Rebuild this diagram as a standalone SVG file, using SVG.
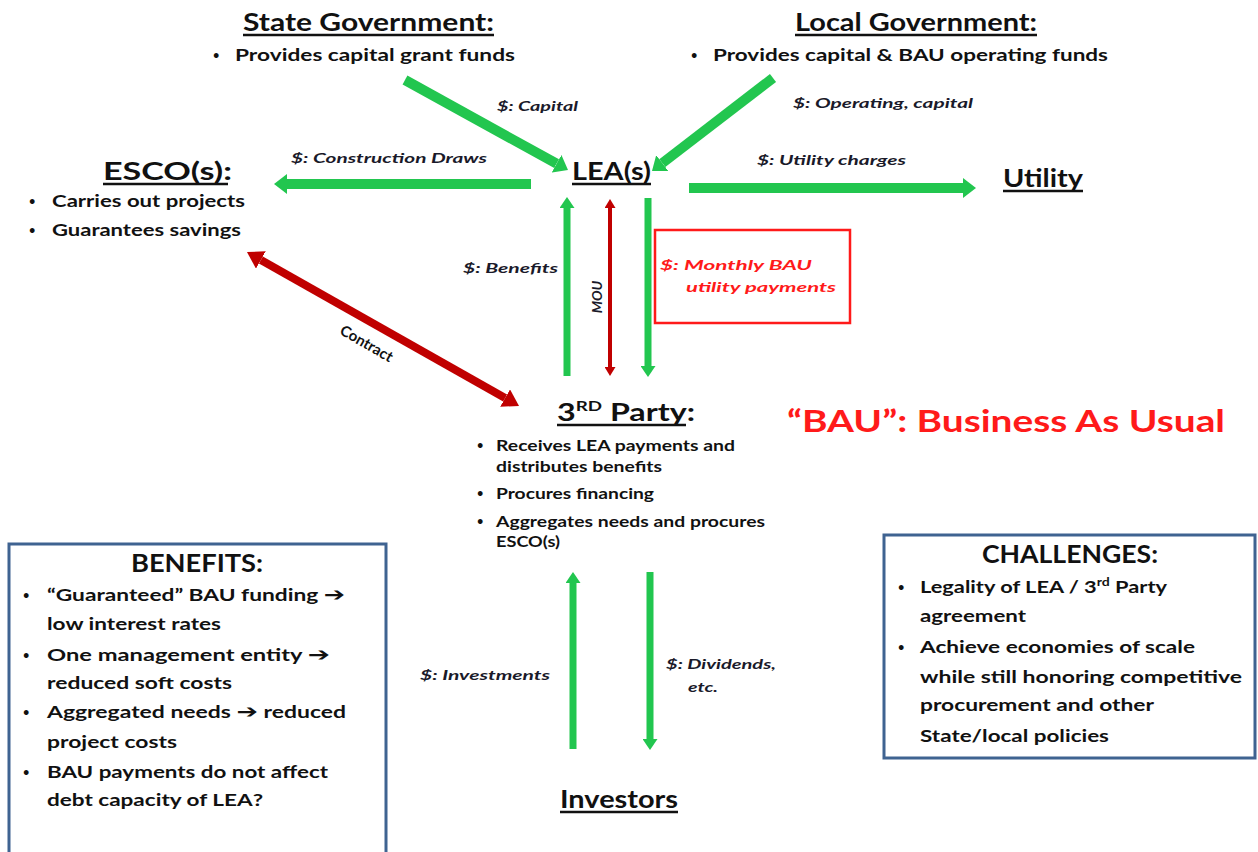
<svg xmlns="http://www.w3.org/2000/svg" width="1258" height="852" viewBox="0 0 1258 852">
  <defs>
    <style>
      text { font-family: Lato, "Liberation Sans", sans-serif; fill: #111; font-weight: bold; }
      .head { font-size: 24px; }
      .item { font-size: 17px; }
      .small { font-size: 15px; }
      .dot { font-size: 11px; }
      .lbl { font-size: 14px; font-style: italic; fill: #1a1a2a; }
      .red { fill: #ff1a1a; }
      .arw { font-family: "DejaVu Sans", sans-serif; font-size: 19px; }
      .ul { stroke: #111; stroke-width: 2.5; }
      .green { stroke: #22c64f; fill: none; }
      .dred { stroke: #c00000; fill: none; }
      .box { fill: #fff; stroke: #3f6391; stroke-width: 3; }
    </style>
    <marker id="gHead" markerUnits="userSpaceOnUse" viewBox="0 0 13 20" refX="0" refY="10" markerWidth="13" markerHeight="20" orient="auto">
      <path d="M0,0 L13,10 L0,20 z" fill="#22c64f"/>
    </marker>
    <marker id="gHeadS" markerUnits="userSpaceOnUse" viewBox="0 0 11 15" refX="0" refY="7.5" markerWidth="11" markerHeight="15" orient="auto">
      <path d="M0,0 L11,7.5 L0,15 z" fill="#22c64f"/>
    </marker>
    <marker id="rHeadS" markerUnits="userSpaceOnUse" viewBox="0 0 9 11" refX="0" refY="5.5" markerWidth="9" markerHeight="11" orient="auto-start-reverse">
      <path d="M0,0 L9,5.5 L0,11 z" fill="#c00000"/>
    </marker>
    <marker id="rHead" markerUnits="userSpaceOnUse" viewBox="0 0 16 20" refX="0" refY="10" markerWidth="16" markerHeight="20" orient="auto-start-reverse">
      <path d="M0,0 L16,10 L0,20 z" fill="#c00000"/>
    </marker>
  </defs>

  <rect width="1258" height="852" fill="#fff"/>

  <!-- flows between the parties -->
  <g id="connectors">
    <line class="green" stroke-width="10" x1="405" y1="80" x2="556.6" y2="163.7" marker-end="url(#gHead)"/>
    <line class="green" stroke-width="10" x1="773" y1="78" x2="662.3" y2="163.1" marker-end="url(#gHead)"/>
    <line class="green" stroke-width="10" x1="531" y1="184" x2="287" y2="184" marker-end="url(#gHead)"/>
    <line class="green" stroke-width="10" x1="689" y1="188" x2="963" y2="188" marker-end="url(#gHead)"/>
    <line class="green" stroke-width="7" x1="567" y1="376" x2="567" y2="208" marker-end="url(#gHeadS)"/>
    <line class="dred" stroke-width="4" x1="610" y1="208" x2="610" y2="367" marker-start="url(#rHeadS)" marker-end="url(#rHeadS)"/>
    <line class="green" stroke-width="7" x1="648" y1="198" x2="648" y2="366" marker-end="url(#gHeadS)"/>
    <line class="dred" stroke-width="8" x1="260.9" y1="259.9" x2="505.1" y2="398.1" marker-start="url(#rHead)" marker-end="url(#rHead)"/>
    <line class="green" stroke-width="7" x1="573" y1="749" x2="573" y2="583" marker-end="url(#gHeadS)"/>
    <line class="green" stroke-width="7" x1="650" y1="572" x2="650" y2="739" marker-end="url(#gHeadS)"/>

    <text class="lbl" x="497" y="111" textLength="81" lengthAdjust="spacingAndGlyphs">$: Capital</text>
    <text class="lbl" x="793" y="108" textLength="180" lengthAdjust="spacingAndGlyphs">$: Operating,  capital</text>
    <text class="lbl" x="291" y="163" textLength="196" lengthAdjust="spacingAndGlyphs">$: Construction  Draws</text>
    <text class="lbl" x="757" y="165" textLength="149" lengthAdjust="spacingAndGlyphs">$: Utility charges</text>
    <text class="lbl" x="463" y="273" textLength="95" lengthAdjust="spacingAndGlyphs">$: Benefits</text>
    <text class="lbl" transform="translate(602,297) rotate(-90)" text-anchor="middle" font-size="15">MOU</text>
    <text transform="translate(364,348) rotate(30)" text-anchor="middle" font-size="15" fill="#222">Contract</text>
    <text class="lbl" x="420" y="680" textLength="130" lengthAdjust="spacingAndGlyphs">$: Investments</text>
    <text class="lbl" x="666" y="669" textLength="110" lengthAdjust="spacingAndGlyphs">$: Dividends,</text>
    <text class="lbl" x="688" y="692" textLength="30" lengthAdjust="spacingAndGlyphs">etc.</text>
  </g>

  <g id="state-government">
    <text class="head" x="243" y="31" textLength="251" lengthAdjust="spacingAndGlyphs">State Government:</text>
    <line class="ul" x1="243" y1="35" x2="494" y2="35"/>
    <text class="dot" x="213" y="59">•</text>
    <text class="item" x="235" y="61" textLength="280" lengthAdjust="spacingAndGlyphs">Provides capital  grant  funds</text>
  </g>

  <g id="local-government">
    <text class="head" x="795" y="31" textLength="242" lengthAdjust="spacingAndGlyphs">Local Government:</text>
    <line class="ul" x1="795" y1="35" x2="1037" y2="35"/>
    <text class="dot" x="691" y="59">•</text>
    <text class="item" x="713" y="61" textLength="395" lengthAdjust="spacingAndGlyphs">Provides capital  &amp; BAU  operating funds</text>
  </g>

  <g id="esco">
    <text class="head" x="103" y="180" textLength="129" lengthAdjust="spacingAndGlyphs">ESCO(s):</text>
    <line class="ul" x1="103" y1="184" x2="228" y2="184"/>
    <text class="dot" x="29" y="205">•</text>
    <text class="item" x="52" y="207" textLength="193" lengthAdjust="spacingAndGlyphs">Carries out projects</text>
    <text class="dot" x="29" y="234">•</text>
    <text class="item" x="52" y="236" textLength="189" lengthAdjust="spacingAndGlyphs">Guarantees savings</text>
  </g>

  <g id="lea">
    <text class="head" x="572" y="180" textLength="79" lengthAdjust="spacingAndGlyphs">LEA(s)</text>
    <line class="ul" x1="572" y1="184" x2="651" y2="184"/>
  </g>

  <g id="utility">
    <text class="head" x="1003" y="187" textLength="80" lengthAdjust="spacingAndGlyphs">Utility</text>
    <line class="ul" x1="1003" y1="191" x2="1083" y2="191"/>
  </g>

  <g id="monthly-payments">
    <rect x="655" y="230" width="195" height="93" fill="none" stroke="#ff1a1a" stroke-width="2.5"/>
    <text class="lbl red" x="660" y="270" font-size="16" textLength="152" lengthAdjust="spacingAndGlyphs">$: Monthly BAU</text>
    <text class="lbl red" x="686" y="292" font-size="16" textLength="150" lengthAdjust="spacingAndGlyphs">utility payments</text>
  </g>

  <g id="third-party">
    <text class="head" x="557" y="421" textLength="138" lengthAdjust="spacingAndGlyphs">3<tspan font-size="14" dy="-10">RD</tspan><tspan dy="10"> Party:</tspan></text>
    <line class="ul" x1="557" y1="425" x2="686" y2="425"/>
    <text class="dot" x="477" y="449">•</text>
    <text class="small" x="496" y="451" textLength="239" lengthAdjust="spacingAndGlyphs">Receives LEA payments and</text>
    <text class="small" x="496" y="472" textLength="166" lengthAdjust="spacingAndGlyphs">distributes benefits</text>
    <text class="dot" x="477" y="497">•</text>
    <text class="small" x="496" y="499" textLength="158" lengthAdjust="spacingAndGlyphs">Procures  financing</text>
    <text class="dot" x="477" y="525">•</text>
    <text class="small" x="496" y="527" textLength="269" lengthAdjust="spacingAndGlyphs">Aggregates needs and procures</text>
    <text class="small" x="496" y="547" textLength="64" lengthAdjust="spacingAndGlyphs">ESCO(s)</text>
  </g>

  <g id="bau-note">
    <text class="red" x="787" y="432" font-size="30" textLength="438" lengthAdjust="spacingAndGlyphs">“BAU”: Business As Usual</text>
  </g>

  <g id="investors">
    <text class="head" x="560" y="808" textLength="118" lengthAdjust="spacingAndGlyphs">Investors</text>
    <line class="ul" x1="560" y1="812" x2="678" y2="812"/>
  </g>

  <g id="benefits">
    <rect class="box" x="9" y="544" width="377" height="320"/>
    <text class="head" x="197" y="572" text-anchor="middle" font-size="23" textLength="132" lengthAdjust="spacingAndGlyphs">BENEFITS:</text>
    <text class="dot" x="23" y="599">•</text>
    <text class="item" x="47" y="601" textLength="298" lengthAdjust="spacingAndGlyphs">“Guaranteed”  BAU  funding <tspan class="arw">➔</tspan></text>
    <text class="item" x="47" y="630" textLength="174" lengthAdjust="spacingAndGlyphs">low interest rates</text>
    <text class="dot" x="23" y="659">•</text>
    <text class="item" x="47" y="661" textLength="283" lengthAdjust="spacingAndGlyphs">One management  entity <tspan class="arw">➔</tspan></text>
    <text class="item" x="47" y="689" textLength="185" lengthAdjust="spacingAndGlyphs">reduced soft costs</text>
    <text class="dot" x="23" y="716">•</text>
    <text class="item" x="47" y="718" textLength="299" lengthAdjust="spacingAndGlyphs">Aggregated  needs <tspan class="arw">➔</tspan> reduced</text>
    <text class="item" x="47" y="748" textLength="130" lengthAdjust="spacingAndGlyphs">project  costs</text>
    <text class="dot" x="23" y="776">•</text>
    <text class="item" x="47" y="778" textLength="281" lengthAdjust="spacingAndGlyphs">BAU  payments do not affect</text>
    <text class="item" x="47" y="806" textLength="216" lengthAdjust="spacingAndGlyphs">debt capacity  of LEA?</text>
  </g>

  <g id="challenges">
    <rect class="box" x="884" y="535" width="371" height="223"/>
    <text class="head" x="1070" y="563" text-anchor="middle" font-size="23" textLength="176" lengthAdjust="spacingAndGlyphs">CHALLENGES:</text>
    <text class="dot" x="898" y="591">•</text>
    <text class="item" x="920" y="593" textLength="247" lengthAdjust="spacingAndGlyphs">Legality  of LEA / 3<tspan font-size="11" dy="-7">rd</tspan><tspan dy="7"> Party</tspan></text>
    <text class="item" x="920" y="622" textLength="106" lengthAdjust="spacingAndGlyphs">agreement</text>
    <text class="dot" x="898" y="651">•</text>
    <text class="item" x="920" y="653" textLength="275" lengthAdjust="spacingAndGlyphs">Achieve  economies of scale</text>
    <text class="item" x="920" y="683" textLength="322" lengthAdjust="spacingAndGlyphs">while still  honoring  competitive</text>
    <text class="item" x="920" y="711" textLength="234" lengthAdjust="spacingAndGlyphs">procurement and other</text>
    <text class="item" x="920" y="742" textLength="189" lengthAdjust="spacingAndGlyphs">State/local  policies</text>
  </g>
</svg>
